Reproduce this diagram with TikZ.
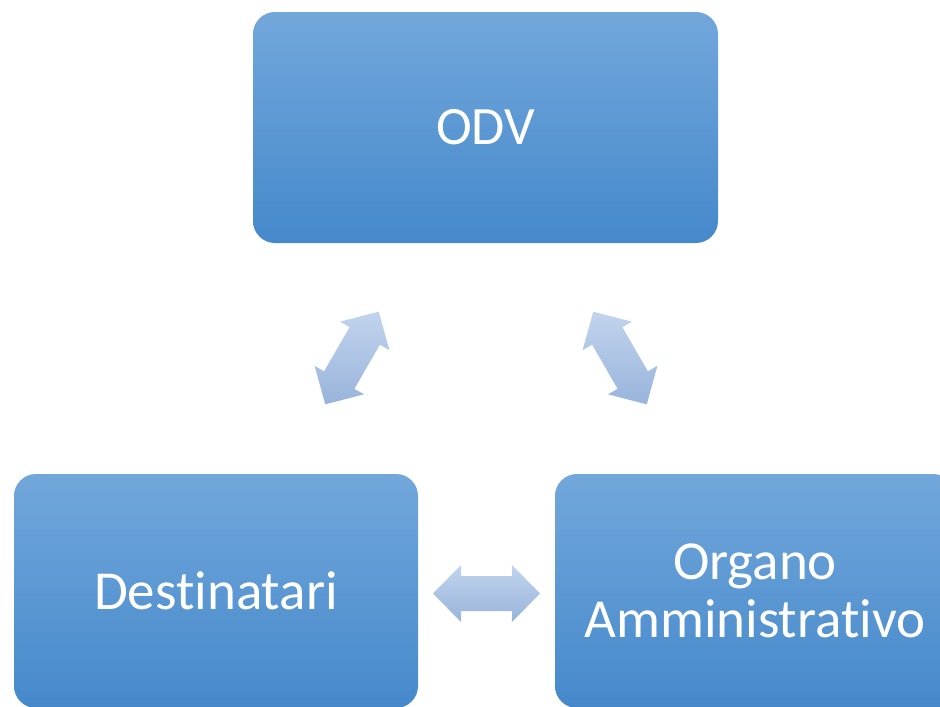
\documentclass[tikz,border=0pt]{standalone}
\usepackage{fontspec}
\setmainfont[Ligatures=NoCommon,RawFeature={-liga;-clig;-dlig}]{Carlito}
\usetikzlibrary{calc}
\definecolor{boxtop}{RGB}{114,167,219}
\definecolor{boxmid}{RGB}{88,156,221}
\definecolor{boxbot}{RGB}{69,137,203}
\definecolor{arrtop}{RGB}{194,212,237}
\definecolor{arrbot}{RGB}{152,180,219}
\tikzset{
  box/.style={rectangle, rounded corners=22pt, draw=none,
    top color=boxtop, middle color=boxmid, bottom color=boxbot,
    text=white, font=\fontsize{55}{58}\selectfont, align=center, inner sep=0pt},
  dblarr/.style={draw=none, top color=arrtop, bottom color=arrbot}
}
\newcommand\blockdbl[2]{%
  \path[dblarr] ($(#1)+(#2:53.5)$) -- ($(#1)+(#2+48.2:38.24)$) -- ($(#1)+(#2+34.46:30.93)$)
    -- ($(#1)+(#2+145.54:30.93)$) -- ($(#1)+(#2+131.8:38.24)$) -- ($(#1)+(#2+180:53.5)$)
    -- ($(#1)+(#2+228.2:38.24)$) -- ($(#1)+(#2+214.46:30.93)$) -- ($(#1)+(#2+325.54:30.93)$)
    -- ($(#1)+(#2+311.8:38.24)$) -- cycle;}
\begin{document}
\begin{tikzpicture}[x=1pt,y=-1pt]
\useasboundingbox (0,0) rectangle (940,707);
\node[box, minimum width=465pt, minimum height=231pt] (odv) at (485.5,127.5) {\fontsize{54}{58}\selectfont ODV};
\node[box, minimum width=404pt, minimum height=234pt] (dest) at (216,591) {Destinatari};
\node[box, minimum width=400pt, minimum height=234pt] (org) at (755,591) {Organo\\Amministrativo};
\coordinate (a1) at (352,358);
\coordinate (a2) at (620,358);
\coordinate (a3) at (486.5,593.5);
\blockdbl{a1}{-60}
\blockdbl{a2}{60}
\blockdbl{a3}{0}
\end{tikzpicture}
\end{document}
